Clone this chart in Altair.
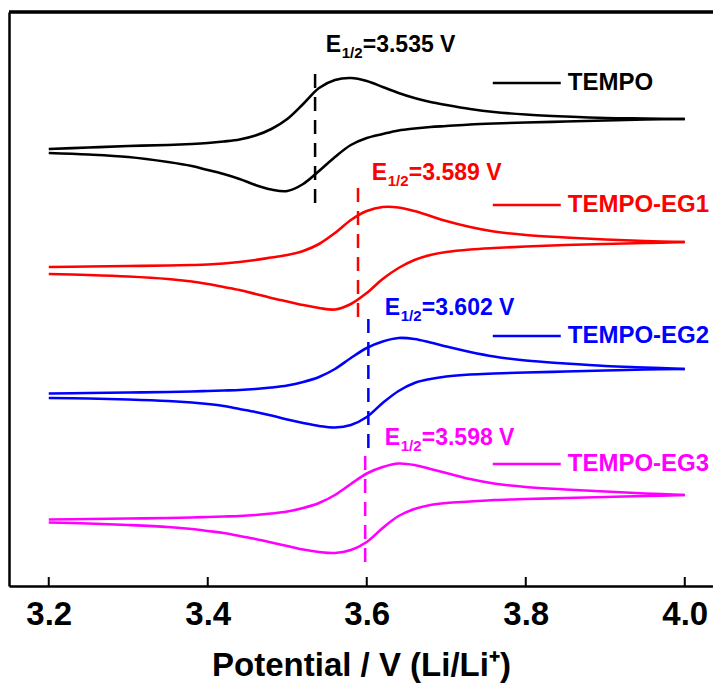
import altair as alt
import pandas as pd

FONT = "Liberation Sans"

# Potential grid (V vs Li/Li+) at which the curves were read
potential = [3.20, 3.25, 3.30, 3.35, 3.38, 3.40, 3.42, 3.44, 3.46, 3.48, 3.50, 3.52, 3.54, 3.56,
             3.58, 3.60, 3.62, 3.64, 3.66, 3.68, 3.70, 3.73, 3.76, 3.80, 3.85, 3.90, 3.95, 4.00]

# Offset current (a.u.), anodic (forward) and cathodic (reverse) branches
tempo_fwd = [437, 438.5, 440, 441, 442, 443, 444.5, 446.5, 450.5, 457, 467, 482, 498, 506,
             508, 505, 499, 493, 488, 484, 481, 477, 474, 471.5, 469.5, 468, 467.5, 467]
tempo_rev = [433, 431.5, 429, 424, 420, 416, 412, 407, 401, 396.5, 395, 402, 415, 429,
             441, 448, 452, 455.5, 457.5, 459, 460, 461.5, 462.5, 463.5, 464.5, 465.5, 466.5, 467]
eg1_fwd = [319, 319.5, 320, 320.5, 321, 321.5, 322.5, 324, 326, 328.5, 331, 335, 342, 353,
           366, 375, 379, 378.5, 375, 370, 365, 359, 354.5, 351, 348.5, 346.5, 345, 344]
eg1_rev = [312, 311, 309.5, 307, 304.5, 302, 299, 296, 292, 288, 284.5, 281, 278, 276.5,
           282, 293, 307, 318, 326, 331, 334, 336.5, 338, 339.5, 341, 342, 343, 344]
eg2_fwd = [192.5, 193, 193.5, 194, 194.5, 195, 195.5, 196, 197, 198.5, 200.5, 204, 209, 217,
           228, 238, 244.5, 248, 247, 243.5, 239.5, 234, 229.5, 225.5, 222.5, 220, 218.5, 217]
eg2_rev = [188, 187.5, 186.5, 185, 183.5, 182, 180, 177, 174, 170.5, 166.5, 163, 160, 158.5,
           161, 169, 183, 195, 203, 207, 209.5, 211.5, 212.5, 213.5, 214.5, 215.5, 216.5, 217]
eg3_fwd = [66.5, 67, 67.5, 68, 68.5, 69, 69.5, 70, 71, 72.5, 74.5, 78, 83, 91,
           102, 112.5, 119, 122.5, 121, 117, 113, 107, 102.5, 99, 96.5, 94.5, 92.5, 91]
eg3_rev = [63.5, 62.5, 61, 59, 57, 55, 53, 50, 47, 43.5, 40, 36.5, 34, 33,
           36, 44, 58, 70, 77, 81, 83, 84.5, 86, 87, 88, 89, 90, 91]

series = ["TEMPO", "TEMPO-EG1", "TEMPO-EG2", "TEMPO-EG3"]
colors = ["#000000", "#FF0000", "#0000FF", "#FF00FF"]
forward = [tempo_fwd, eg1_fwd, eg2_fwd, eg3_fwd]
reverse = [tempo_rev, eg1_rev, eg2_rev, eg3_rev]

# Half-wave potentials and annotation placement
e_half = [3.535, 3.589, 3.602, 3.598]
e_text = ["=3.535 V", "=3.589 V", "=3.602 V", "=3.598 V"]
dash_top = [518, 403, 271, 131]
dash_bottom = [383, 269, 138, 24]
label_x = [3.5484, 3.6063, 3.6226, 3.6226]
label_y = [534, 406, 271, 141]
legend_y = [503, 381, 250, 122]
legend_x1, legend_x2, legend_text_x = 3.7585, 3.844, 3.8528

ticks = [3.2, 3.4, 3.6, 3.8, 4.0]
x_domain = [3.15, 4.0355]
y_domain = [0, 574]

rows = []
for s, f, r in zip(series, forward, reverse):
    for v, c in zip(potential, f):
        rows.append({"series": s, "branch": "fwd", "E": v, "I": c})
    for v, c in zip(potential, r):
        rows.append({"series": s, "branch": "rev", "E": v, "I": c})
curves = pd.DataFrame(rows)

ann = pd.DataFrame({
    "series": series, "Ehalf": e_half, "text": e_text,
    "top": dash_top, "bottom": dash_bottom,
    "lx": label_x, "ly": label_y, "legy": legend_y,
})
ann["legx1"] = legend_x1
ann["legx2"] = legend_x2
ann["legtx"] = legend_text_x
tick_df = pd.DataFrame({"t": ticks})

color = alt.Color("series:N", scale=alt.Scale(domain=series, range=colors), legend=None)
xs = alt.Scale(domain=x_domain, nice=False, zero=False)
ys = alt.Scale(domain=y_domain, nice=False, zero=False)

lines = alt.Chart(curves).mark_line(strokeWidth=2.6, interpolate="catmull-rom").encode(
    x=alt.X("E:Q", scale=xs, axis=alt.Axis(
        values=ticks, format=".1f", ticks=False, tickSize=0, grid=False,
        domainColor="black", domainWidth=2.5, labelFlush=False, labelOverlap=False,
        labelFont=FONT, labelFontSize=33, labelFontWeight="bold", labelColor="black",
        labelPadding=12, title="Potential / V (Li/Li\u207a)", titleFont=FONT,
        titleFontSize=33, titleFontWeight="bold", titleColor="black",
        titleBaseline="alphabetic", titleY=89)),
    y=alt.Y("I:Q", scale=ys, axis=alt.Axis(
        labels=False, ticks=False, grid=False, domainColor="black", domainWidth=2.5,
        title=None)),
    color=color,
    detail="branch:N",
)

tick_marks = alt.Chart(tick_df).mark_rule(color="black", strokeWidth=2).encode(
    x=alt.X("t:Q", scale=xs), y=alt.datum(0, scale=ys), y2=alt.datum(9))

top_frame = alt.Chart(tick_df).mark_rule(color="black", strokeWidth=2.5).encode(
    x=alt.value(0), x2=alt.value(704), y=alt.value(0))

base = alt.Chart(ann)
dashes = base.mark_rule(strokeWidth=2.5, strokeDash=[14, 9]).encode(
    x=alt.X("Ehalf:Q", scale=xs), y=alt.Y("bottom:Q", scale=ys), y2="top:Q", color=color)

lab_e = base.mark_text(align="left", baseline="alphabetic", font=FONT, fontSize=23,
                       fontWeight="bold").encode(
    x=alt.X("lx:Q", scale=xs), y=alt.Y("ly:Q", scale=ys), text=alt.value("E"), color=color)
lab_sub = base.mark_text(align="left", baseline="alphabetic", font=FONT, fontSize=15,
                         fontWeight="bold", dx=16, dy=6).encode(
    x=alt.X("lx:Q", scale=xs), y=alt.Y("ly:Q", scale=ys), text=alt.value("1/2"), color=color)
lab_rest = base.mark_text(align="left", baseline="alphabetic", font=FONT, fontSize=23,
                          fontWeight="bold", dx=37).encode(
    x=alt.X("lx:Q", scale=xs), y=alt.Y("ly:Q", scale=ys), text="text:N", color=color)

leg_lines = base.mark_rule(strokeWidth=2.5).encode(
    x=alt.X("legx1:Q", scale=xs), x2="legx2:Q", y=alt.Y("legy:Q", scale=ys), color=color)
leg_text = base.mark_text(align="left", baseline="middle", font=FONT, fontSize=24,
                          fontWeight="bold").encode(
    x=alt.X("legtx:Q", scale=xs), y=alt.Y("legy:Q", scale=ys), text="series:N", color=color)

chart = alt.layer(lines, tick_marks, top_frame, dashes, lab_e, lab_sub, lab_rest,
                  leg_lines, leg_text).properties(
    width=704, height=574,
    padding={"left": 1, "top": 4, "right": 0, "bottom": 98},
    autosize=alt.AutoSizeParams(type="none"),
).configure_view(stroke="transparent")

chart.save("out.html", embed_options={"renderer": "svg", "actions": False})
